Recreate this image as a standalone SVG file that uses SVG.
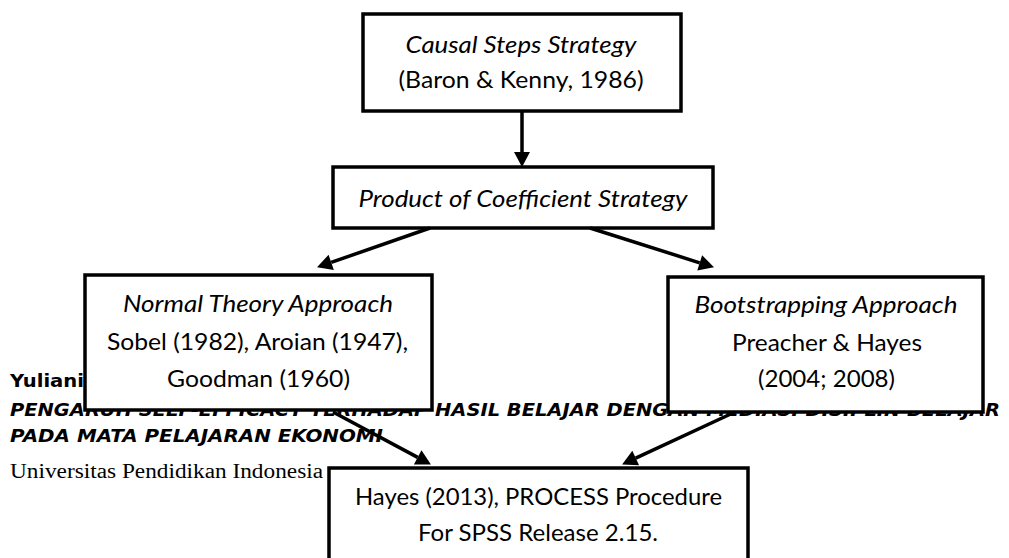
<svg xmlns="http://www.w3.org/2000/svg" width="1009" height="558" viewBox="0 0 1009 558">
<style>
.hdr{font-family:"DejaVu Sans",sans-serif;font-weight:bold;font-size:18.5px}
.hdri{font-family:"DejaVu Sans",sans-serif;font-weight:bold;font-style:italic;font-size:18.5px}
.uni{font-family:"Liberation Serif",serif;font-size:20px}
.box{fill:#fff;stroke:#000;stroke-width:3.5}
.t{font-family:Lato,"Liberation Sans",sans-serif;font-size:22.5px;fill:#000;text-anchor:middle}
.i{font-style:italic}
.con{stroke:#000;stroke-width:3.5;fill:none}
</style>
<defs>
<marker id="ah" markerUnits="userSpaceOnUse" markerWidth="15" markerHeight="17" refX="0" refY="8" orient="auto" overflow="visible">
<path d="M0,0 L15,8 L0,16 z" fill="#000"/>
</marker>
</defs>
<g id="background">
<text class="hdr" x="10" y="387" textLength="74" lengthAdjust="spacingAndGlyphs">Yuliani</text>
<text class="hdri" x="10" y="416" textLength="990" lengthAdjust="spacingAndGlyphs">PENGARUH SELF-EFFICACY TERHADAP HASIL BELAJAR DENGAN MEDIASI DISIPLIN BELAJAR</text>
<text class="hdri" x="10" y="442" textLength="373" lengthAdjust="spacingAndGlyphs">PADA MATA PELAJARAN EKONOMI</text>
<text class="uni" x="10" y="478" textLength="313" lengthAdjust="spacingAndGlyphs">Universitas Pendidikan Indonesia</text>
</g>
<g id="causal">
<rect class="box" x="363" y="14" width="318" height="97"/>
<text class="t i" x="521" y="53" textLength="231" lengthAdjust="spacingAndGlyphs">Causal Steps Strategy</text>
<text class="t" x="521" y="88" textLength="245" lengthAdjust="spacingAndGlyphs">(Baron &amp; Kenny, 1986)</text>
</g>
<g id="product">
<rect class="box" x="333" y="167" width="380" height="61"/>
<text class="t i" x="523" y="207" textLength="329" lengthAdjust="spacingAndGlyphs">Product of Coefficient Strategy</text>
</g>
<g id="normal">
<rect class="box" x="85" y="275" width="347" height="135"/>
<text class="t i" x="258" y="312" textLength="270" lengthAdjust="spacingAndGlyphs">Normal Theory Approach</text>
<text class="t" x="257.5" y="350" textLength="301" lengthAdjust="spacingAndGlyphs">Sobel (1982), Aroian (1947),</text>
<text class="t" x="258.5" y="387" textLength="183" lengthAdjust="spacingAndGlyphs">Goodman (1960)</text>
</g>
<g id="bootstrap">
<rect class="box" x="668" y="277" width="315" height="135"/>
<text class="t i" x="826" y="313" textLength="263" lengthAdjust="spacingAndGlyphs">Bootstrapping Approach</text>
<text class="t" x="827" y="351" textLength="190" lengthAdjust="spacingAndGlyphs">Preacher &amp; Hayes</text>
<text class="t" x="826.5" y="387" textLength="137" lengthAdjust="spacingAndGlyphs">(2004; 2008)</text>
</g>
<g id="hayes">
<rect class="box" x="329" y="468" width="419" height="130"/>
<text class="t" x="538.5" y="505" textLength="367" lengthAdjust="spacingAndGlyphs">Hayes (2013), PROCESS Procedure</text>
<text class="t" x="538" y="541" textLength="240" lengthAdjust="spacingAndGlyphs">For SPSS Release 2.15.</text>
</g>
<g id="connectors">
<line class="con" x1="522" y1="111" x2="522" y2="152" marker-end="url(#ah)"/>
<line class="con" x1="430" y1="228" x2="331.2" y2="262.4" marker-end="url(#ah)"/>
<line class="con" x1="590" y1="228" x2="699.7" y2="262.8" marker-end="url(#ah)"/>
<line class="con" x1="333" y1="412" x2="417.7" y2="457.4" marker-end="url(#ah)"/>
<line class="con" x1="735" y1="412" x2="635.7" y2="458.1" marker-end="url(#ah)"/>
</g>
</svg>
